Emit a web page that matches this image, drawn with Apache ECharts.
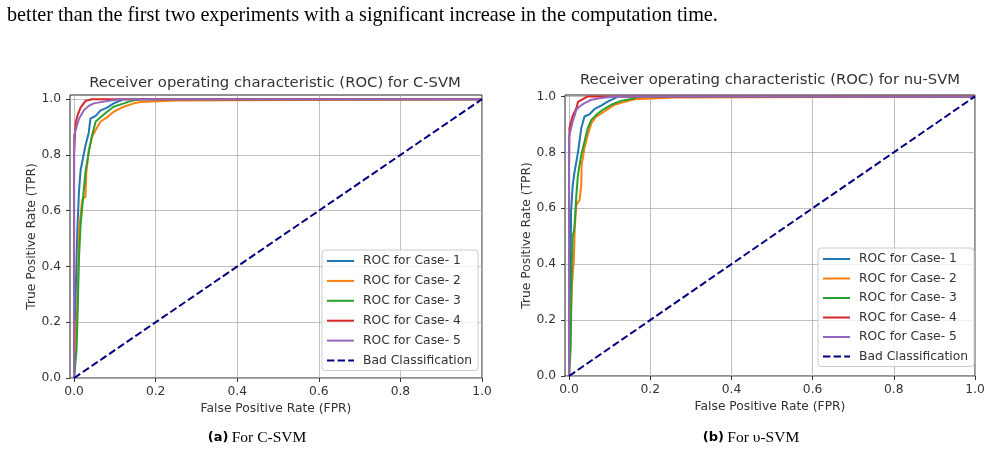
<!DOCTYPE html>
<html>
<head>
<meta charset="utf-8">
<script src="https://cdn.jsdelivr.net/npm/echarts@6/dist/echarts.min.js"></script>
<style>
html, body { margin: 0; padding: 0; background: #fff; }
#main { width: 993px; height: 454px; }
</style>
</head>
<body>
<div id="main"></div>
<script>
// ROC points [FPR, TPR] - (a) C-SVM
var csvmCase1 = [[0, 0], [0.004, 0.3], [0.008, 0.53], [0.012, 0.67], [0.016, 0.745], [0.022, 0.79], [0.028, 0.835], [0.036, 0.88], [0.04, 0.93], [0.053, 0.94], [0.065, 0.96], [0.081, 0.97], [0.097, 0.985], [0.114, 0.995], [0.122, 1.0], [1, 1]];
var csvmCase2 = [[0, 0], [0.004, 0], [0.004, 0.15], [0.008, 0.25], [0.012, 0.53], [0.02, 0.64], [0.028, 0.65], [0.03, 0.735], [0.036, 0.815], [0.044, 0.865], [0.057, 0.9], [0.065, 0.92], [0.081, 0.935], [0.097, 0.955], [0.122, 0.973], [0.146, 0.985], [0.163, 0.99], [0.25, 0.995], [0.253, 1], [1, 1]];
var csvmCase3 = [[0, 0], [0.006, 0.1], [0.008, 0.195], [0.012, 0.43], [0.016, 0.55], [0.022, 0.645], [0.028, 0.74], [0.036, 0.81], [0.044, 0.87], [0.053, 0.92], [0.065, 0.935], [0.081, 0.955], [0.097, 0.973], [0.122, 0.985], [0.138, 0.993], [0.163, 1.0], [1, 1]];
var csvmCase4 = [[0, 0], [0, 0.8], [0.002, 0.87], [0.004, 0.916], [0.008, 0.94], [0.016, 0.97], [0.028, 0.994], [0.044, 1.0], [1, 1]];
var csvmCase5 = [[0, 0], [0, 0.87], [0.004, 0.87], [0.012, 0.93], [0.024, 0.96], [0.036, 0.976], [0.048, 0.985], [0.089, 0.995], [0.118, 1.0], [1, 1]];

// (b) nu-SVM
var nusvmCase1 = [[0, 0], [0.003, 0.3], [0.005, 0.59], [0.009, 0.683], [0.013, 0.725], [0.018, 0.767], [0.022, 0.8], [0.026, 0.844], [0.03, 0.886], [0.038, 0.928], [0.05, 0.936], [0.063, 0.955], [0.079, 0.967], [0.095, 0.981], [0.112, 0.993], [0.12, 1.0], [1, 1]];
var nusvmCase2 = [[0, 0], [0.001, 0.087], [0.004, 0.207], [0.007, 0.326], [0.012, 0.42], [0.014, 0.528], [0.018, 0.612], [0.026, 0.63], [0.03, 0.683], [0.031, 0.755], [0.038, 0.815], [0.046, 0.862], [0.055, 0.904], [0.067, 0.928], [0.087, 0.946], [0.112, 0.97], [0.137, 0.981], [0.161, 0.99], [0.26, 0.996], [0.262, 1], [1, 1]];
var nusvmCase3 = [[0, 0], [0.004, 0.1], [0.005, 0.206], [0.007, 0.42], [0.009, 0.5], [0.013, 0.528], [0.018, 0.648], [0.022, 0.72], [0.03, 0.79], [0.038, 0.838], [0.046, 0.886], [0.055, 0.916], [0.067, 0.934], [0.083, 0.952], [0.104, 0.97], [0.128, 0.984], [0.153, 0.991], [0.165, 0.995], [0.17, 1], [1, 1]];
var nusvmCase4 = [[0, 0], [0, 0.745], [0.001, 0.886], [0.005, 0.91], [0.009, 0.93], [0.018, 0.958], [0.022, 0.98], [0.034, 0.99], [0.046, 1.0], [1, 1]];
var nusvmCase5 = [[0, 0], [0, 0.856], [0.005, 0.886], [0.009, 0.91], [0.013, 0.928], [0.018, 0.952], [0.026, 0.964], [0.038, 0.976], [0.055, 0.988], [0.079, 0.994], [0.112, 1.0], [1, 1]];

var badClassification = [[0, 0], [1, 1]];
var caseNames = ['ROC for Case- 1', 'ROC for Case- 2', 'ROC for Case- 3', 'ROC for Case- 4', 'ROC for Case- 5'];
var badName = 'Bad Classification';
var tickValues = [0, 0.2, 0.4, 0.6, 0.8, 1.0];

var caseColors = ['#1f77b4', '#ff7f0e', '#2ca02c', '#d62728', '#9467bd'];
var textColor = '#333';
var smallFont = 12.3;

function makeXAxis(idx, nameGap) {
	return {
		type: 'value', gridIndex: idx, min: -0.01, max: 1.0,
		axisLine: { show: false, onZero: false },
		axisTick: { show: true, length: 4, customValues: tickValues, lineStyle: { color: '#333' } },
		axisLabel: {
			customValues: tickValues, color: textColor, fontSize: smallFont, margin: 8, fontFamily: 'DejaVu Sans',
			formatter: function(v) { return v.toFixed(1); }
		},
		splitLine: { show: true, lineStyle: { color: '#b0b0b0', width: 0.8 } },
		name: 'False Positive Rate (FPR)', nameLocation: 'middle', nameGap: nameGap,
		nameTextStyle: { color: textColor, fontSize: smallFont, fontFamily: 'DejaVu Sans' }
	};
}

function makeYAxis(idx, max, nameGap) {
	return {
		type: 'value', gridIndex: idx, min: 0, max: max,
		axisLine: { show: false, onZero: false },
		axisTick: { show: true, length: 4, customValues: tickValues, lineStyle: { color: '#333' } },
		axisLabel: {
			customValues: tickValues, color: textColor, fontSize: smallFont, margin: 9, fontFamily: 'DejaVu Sans',
			formatter: function(v) { return v.toFixed(1); }
		},
		splitLine: { show: true, lineStyle: { color: '#b0b0b0', width: 0.8 } },
		name: 'True Positive Rate (TPR)', nameLocation: 'middle', nameGap: nameGap,
		nameTextStyle: { color: textColor, fontSize: smallFont, fontFamily: 'DejaVu Sans' }
	};
}

function makeLegend(left, top, gap) {
	return {
		orient: 'vertical', left: left, top: top,
		itemWidth: 27, itemHeight: 12, itemGap: gap,
		padding: [5, 6, 4, 4],
		backgroundColor: 'rgba(255,255,255,0.8)',
		borderColor: '#cccccc', borderWidth: 1, borderRadius: 3,
		selectedMode: false,
		itemStyle: { opacity: 0 },
		textStyle: { color: textColor, fontSize: smallFont, fontFamily: 'DejaVu Sans', padding: [0, 0, 0, 4] },
		data: caseNames.concat([badName])
	};
}

// series for one panel
function makeSeries(idx, cases) {
	var list = [];
	for (var i = 0; i < cases.length; i++) {
		list.push({
			name: caseNames[i], type: 'line', xAxisIndex: idx, yAxisIndex: idx,
			data: cases[i], symbol: 'none', showSymbol: false,
			lineStyle: { color: caseColors[i], width: 2 },
			itemStyle: { color: caseColors[i] }
		});
	}
	list.push({
		name: badName, type: 'line', xAxisIndex: idx, yAxisIndex: idx,
		data: badClassification, symbol: 'none', showSymbol: false,
		lineStyle: { color: 'navy', width: 2, type: [7.4, 3.2] },
		itemStyle: { color: 'navy' }
	});
	return list;
}

var chart = echarts.init(document.getElementById('main'));
var option = {
	animation: false,
	backgroundColor: '#fff',
	grid: [
		{ left: 70, top: 95, width: 412, height: 283, show: true, borderColor: '#222', borderWidth: 1, backgroundColor: 'transparent' },
		{ left: 565, top: 95, width: 410, height: 281, show: true, borderColor: '#222', borderWidth: 1, backgroundColor: 'transparent' }
	],
	xAxis: [makeXAxis(0, 25), makeXAxis(1, 25)],
	yAxis: [makeYAxis(0, 1.015, 32), makeYAxis(1, 1.005, 30)],
	legend: [makeLegend(322, 250, 7.9), makeLegend(818, 248, 7.5)],
	series: makeSeries(0, [csvmCase1, csvmCase2, csvmCase3, csvmCase4, csvmCase5])
		.concat(makeSeries(1, [nusvmCase1, nusvmCase2, nusvmCase3, nusvmCase4, nusvmCase5])),
	graphic: [
		{ type: 'text', x: 7, y: 16, style: { text: 'better than the first two experiments with a significant increase in the computation time.', fontFamily: 'Liberation Serif', fontSize: 20.2, fill: '#000', verticalAlign: 'middle' } },
		{ type: 'text', x: 275, y: 83, style: { text: 'Receiver operating characteristic (ROC) for C-SVM', fontFamily: 'DejaVu Sans', fontSize: 14.8, fill: textColor, align: 'center', verticalAlign: 'middle' } },
		{ type: 'text', x: 770, y: 80, style: { text: 'Receiver operating characteristic (ROC) for nu-SVM', fontFamily: 'DejaVu Sans', fontSize: 14.8, fill: textColor, align: 'center', verticalAlign: 'middle' } },
		{ type: 'text', x: 257, y: 438, style: {
			text: '{a|(a)} {b|For C-SVM}', align: 'center', verticalAlign: 'middle', fill: '#000',
			rich: { a: { fontFamily: 'DejaVu Sans', fontWeight: 'bold', fontSize: 13 }, b: { fontFamily: 'Liberation Serif', fontSize: 15.5 } }
		} },
		{ type: 'text', x: 751, y: 438, style: {
			text: '{a|(b)} {b|For \u03c5-SVM}', align: 'center', verticalAlign: 'middle', fill: '#000',
			rich: { a: { fontFamily: 'DejaVu Sans', fontWeight: 'bold', fontSize: 13 }, b: { fontFamily: 'Liberation Serif', fontSize: 15.5 } }
		} }
	]
};
chart.setOption(option);
</script>
</body>
</html>
